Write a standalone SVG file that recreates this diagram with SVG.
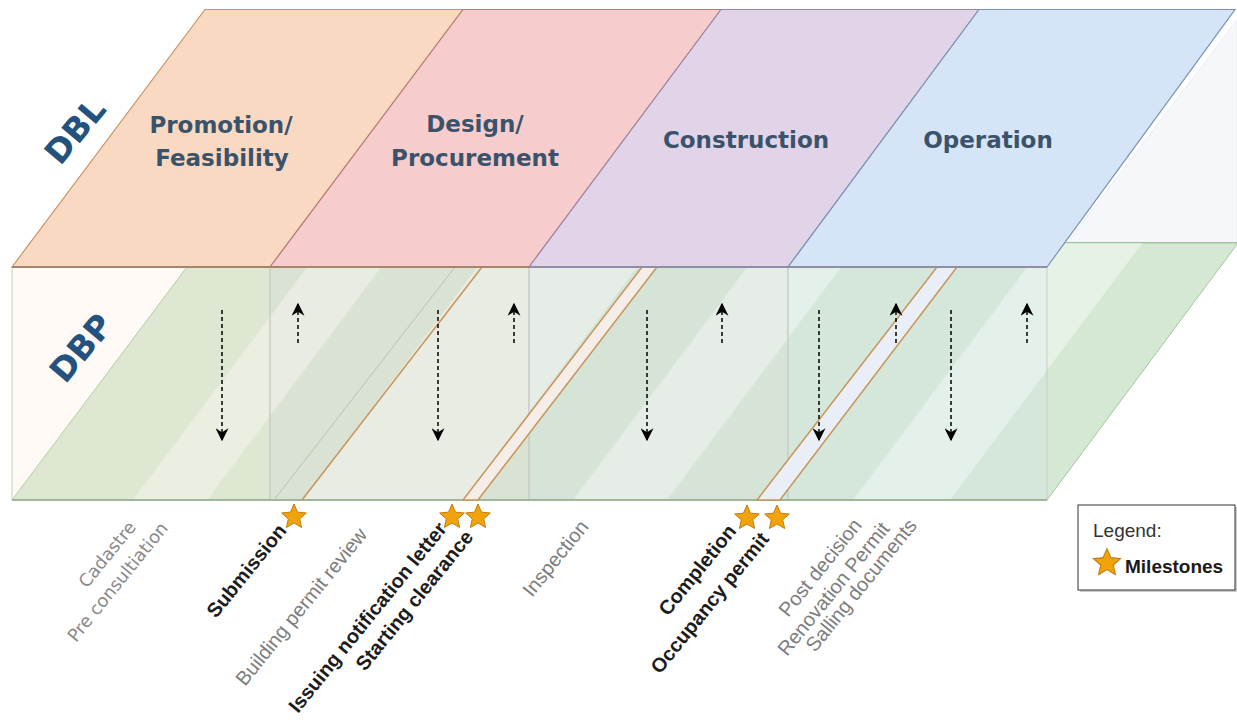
<svg xmlns="http://www.w3.org/2000/svg" width="1237" height="720" viewBox="0 0 1237 720">
<defs>
<style>
.phase{font-family:"DejaVu Sans",sans-serif;font-weight:bold;font-size:23px;fill:#3a536b;text-anchor:middle}
.layer{font-family:"DejaVu Sans",sans-serif;font-weight:bold;font-size:33px;fill:#24527e;text-anchor:middle;dominant-baseline:central}
.lbl{font-family:"Liberation Sans",Arial,sans-serif;font-size:20px;fill:#7d7d7d}
.ms{font-family:"Liberation Sans",Arial,sans-serif;font-size:20px;font-weight:bold;fill:#1c1c1c}
.lbl2{font-family:"DejaVu Sans",sans-serif;font-size:17.7px;fill:#8a8a8a}
.arr{stroke:#000;stroke-width:1.5;stroke-dasharray:4 3;fill:none;marker-end:url(#ah)}
.band{fill:#ffffff;opacity:0.42}
.strip{stroke:#c8955a;stroke-width:1.5}
.front{stroke:#c8cbc6;stroke-width:1}
.star{fill:#f0a30a;stroke:#c27d0e;stroke-width:1}
</style>
<marker id="ah" viewBox="0 0 10 10" refX="9" refY="5" markerWidth="13" markerHeight="13" markerUnits="userSpaceOnUse" orient="auto">
<path d="M0,0 L10,5 L0,10 L3,5 z" fill="#000"/>
</marker>
<polygon id="star" points="0,-13 3.53,-4.85 12.36,-4.02 5.71,1.85 7.64,10.52 0,6 -7.64,10.52 -5.71,1.85 -12.36,-4.02 -3.53,-4.85"/>
<clipPath id="slabclip"><polygon points="12,500 1047,500 1238,243 205,243"/></clipPath>
</defs>

<rect x="0" y="0" width="1237" height="720" fill="#ffffff"/>

<g id="dbp-slab">
<polygon points="12,500 1047,500 1238,243 205,243" fill="#d5e8d4" stroke="#a3c59e" stroke-width="1"/>
<g clip-path="url(#slabclip)">
<polygon class="band" points="133,500 207,500 400,242 326,242"/>
<polygon class="band" points="303,500 463,500 656,242 496,242"/>
<polygon class="band" points="573,500 667,500 860,242 766,242"/>
<polygon class="band" points="853,500 950,500 1143,242 1046,242"/>
</g>
</g>

<g id="back-wall">
<polygon points="1068,242 1237,20 1237,242" fill="#f5f7fb" stroke="#eceef3" stroke-width="1"/>
<line x1="1063" y1="242.5" x2="1237" y2="242.5" stroke="#a3c59e" stroke-width="1.2"/>
</g>

<g id="front-faces">
<rect class="front" x="12" y="267" width="258" height="233" fill="#ffe6cc" fill-opacity="0.2"/>
<rect class="front" x="270" y="267" width="259" height="233" fill="#f8cecc" fill-opacity="0.16"/>
<rect class="front" x="529" y="267" width="259" height="233" fill="#e1d5e7" fill-opacity="0.16"/>
<rect class="front" x="788" y="267" width="259" height="233" fill="#dae8fc" fill-opacity="0.16"/>
<line x1="12" y1="500" x2="1047" y2="500" stroke="#8fae88" stroke-width="1.5"/>
</g>

<g id="milestone-lines">
<line x1="274" y1="500" x2="455" y2="267" stroke="#b9c4b0" stroke-width="1"/>
<line class="strip" x1="302" y1="500" x2="482" y2="267"/>
<polygon class="strip" points="463,500 478,500 657,267 642,267" fill="#f5ede7"/>
<polygon class="strip" points="757,500 780,500 957,267 937,267" fill="#eaeef6"/>
</g>

<g id="phase-promotion">
<polygon points="12,267 205,9.5 463,9.5 270,267" fill="#fad9c2" stroke="#c9925f" stroke-width="1.2"/>
<text class="phase" x="221" y="133">Promotion/</text>
<text class="phase" x="222" y="166">Feasibility</text>
</g>
<g id="phase-design">
<polygon points="270,267 463,9.5 721,9.5 529,267" fill="#f6cdcc" stroke="#b87a78" stroke-width="1.2"/>
<text class="phase" x="475" y="132">Design/</text>
<text class="phase" x="475" y="166">Procurement</text>
</g>
<g id="phase-construction">
<polygon points="529,267 721,9.5 979,9.5 788,267" fill="#e2d4e8" stroke="#9b85a8" stroke-width="1.2"/>
<text class="phase" x="746" y="148">Construction</text>
</g>
<g id="phase-operation">
<polygon points="788,267 979,9.5 1235,9.5 1047,267" fill="#d5e4f6" stroke="#7891b5" stroke-width="1.2"/>
<text class="phase" x="988" y="148">Operation</text>
</g>
<line x1="12" y1="267" x2="529" y2="267" stroke="#a98466" stroke-width="2"/>
<line x1="529" y1="267" x2="1047" y2="267" stroke="#8e8ea8" stroke-width="2"/>

<g id="layer-labels">
<text class="layer" x="75" y="131" transform="rotate(-50 75 131)">DBL</text>
<text class="layer" x="81" y="348" transform="rotate(-50 81 348)">DBP</text>
</g>

<g id="connectors">
<line class="arr" x1="222" y1="310" x2="222" y2="440"/>
<line class="arr" x1="298" y1="343" x2="298" y2="304"/>
<line class="arr" x1="438" y1="310" x2="438" y2="440"/>
<line class="arr" x1="514" y1="343" x2="514" y2="304"/>
<line class="arr" x1="647" y1="310" x2="647" y2="440"/>
<line class="arr" x1="722" y1="343" x2="722" y2="304"/>
<line class="arr" x1="819" y1="310" x2="819" y2="440"/>
<line class="arr" x1="896" y1="343" x2="896" y2="304"/>
<line class="arr" x1="951" y1="310" x2="951" y2="440"/>
<line class="arr" x1="1027" y1="343" x2="1027" y2="304"/>
</g>

<g id="milestone-stars">
<use href="#star" class="star" x="294" y="517"/>
<use href="#star" class="star" x="452" y="517"/>
<use href="#star" class="star" x="478" y="517"/>
<use href="#star" class="star" x="747" y="518"/>
<use href="#star" class="star" x="777" y="518"/>
</g>

<g id="bottom-labels">
<text class="lbl2" x="87" y="589" transform="rotate(-51 87 589)">Cadastre</text>
<text class="lbl2" x="76" y="643" transform="rotate(-51 76 643)">Pre consultiation</text>
<text class="ms" x="216" y="619" transform="rotate(-51 216 619)">Submission</text>
<text class="lbl" x="245" y="687" transform="rotate(-51 245 687)">Building permit review</text>
<text class="ms" x="298" y="714" transform="rotate(-51 298 714)">Issuing notification letter</text>
<text class="ms" x="365" y="672" transform="rotate(-51 365 672)">Starting clearance</text>
<text class="lbl" x="532" y="598" transform="rotate(-51 532 598)">Inspection</text>
<text class="ms" x="668" y="617" transform="rotate(-51 668 617)">Completion</text>
<text class="ms" x="660" y="675" transform="rotate(-51 660 675)">Occupancy permit</text>
<text class="lbl" x="788" y="618" transform="rotate(-51 788 618)">Post decision</text>
<text class="lbl" x="787" y="657" transform="rotate(-51 787 657)">Renovation Permit</text>
<text class="lbl" x="815" y="653" transform="rotate(-51 815 653)">Salling documents</text>
</g>

<g id="legend">
<rect x="1080" y="507" width="157" height="85" fill="#9a9a9a" opacity="0.5"/>
<rect x="1078" y="505" width="157" height="85" fill="#ffffff" stroke="#333333" stroke-width="1"/>
<text x="1093" y="537" font-family="Liberation Sans, Arial, sans-serif" font-size="19" fill="#333333">Legend:</text>
<use href="#star" class="star" transform="translate(1107 563) scale(1.1)"/>
<text x="1125" y="573" font-family="Liberation Sans, Arial, sans-serif" font-size="19" font-weight="bold" fill="#1a1a1a">Milestones</text>
</g>
</svg>
